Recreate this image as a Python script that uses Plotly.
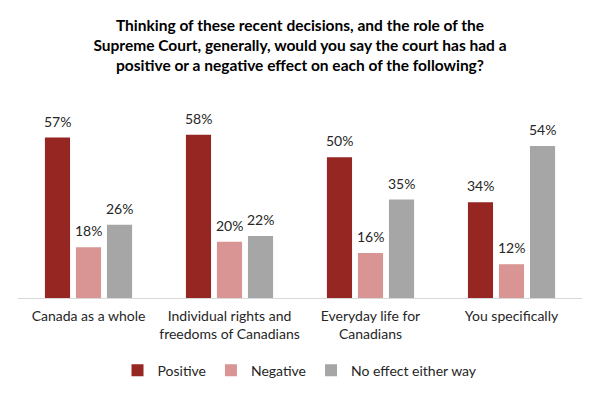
import plotly.graph_objects as go

categories = ["Canada as a whole", "Individual rights and<br>freedoms of Canadians",
              "Everyday life for<br>Canadians", "You specifically"]
series_names = ["Positive", "Negative", "No effect either way"]
positive = [57, 58, 50, 34]
negative = [18, 20, 16, 12]
no_effect = [26, 22, 35, 54]
colors = ["#952621", "#D99594", "#A6A6A6"]

FONT = "Lato"
fig = go.Figure()
values = [positive, negative, no_effect]
for name, vals, col in zip(series_names, values, colors):
    fig.add_trace(go.Bar(x=categories, y=vals, name=name, marker_color=col,
                         marker_line_width=0, hoverinfo="skip"))

slot = 31
for i, vals in enumerate(values):
    for c, v in zip(categories, vals):
        fig.add_annotation(x=c, y=v, text=f"{v}%", showarrow=False,
                           xref="x", yref="y", yanchor="bottom",
                           xshift=(i - 1) * slot, yshift=6,
                           font=dict(family=FONT, size=14, color="#262626"))

fig.update_layout(
    width=600, height=394,
    margin=dict(l=18, r=18, t=101, b=96, autoexpand=False),
    paper_bgcolor="white", plot_bgcolor="white",
    barmode="group", bargap=0.34, bargroupgap=0.19,
    title=dict(text="Thinking of these recent decisions, and the role of the<br>"
                    "Supreme Court, generally, would you say the court has had a<br>"
                    "positive or a negative effect on each of the following?",
               x=0.5, xanchor="center", y=1 - 31 / 394, yanchor="middle",
               font=dict(family=FONT, size=15.5, color="#000000", weight="bold")),
    font=dict(family=FONT, size=14, color="#262626"),
    showlegend=True,
    legend=dict(orientation="h", x=0.5, xanchor="center", y=-0.288, yanchor="top",
                font=dict(family=FONT, size=14, color="#262626"),
                traceorder="normal", itemwidth=30),
    xaxis=dict(showline=True, linecolor="#D9D9D9", linewidth=1, ticks="",
               automargin=False, ticklabelstandoff=5,
               tickfont=dict(family=FONT, size=14, color="#262626")),
    yaxis=dict(range=[0, 70], visible=False, showgrid=False, zeroline=False),
)

fig.write_html("out.html", config={"displayModeBar": False},
               post_script="document.body.style.margin='0';document.body.style.overflow='hidden';")
